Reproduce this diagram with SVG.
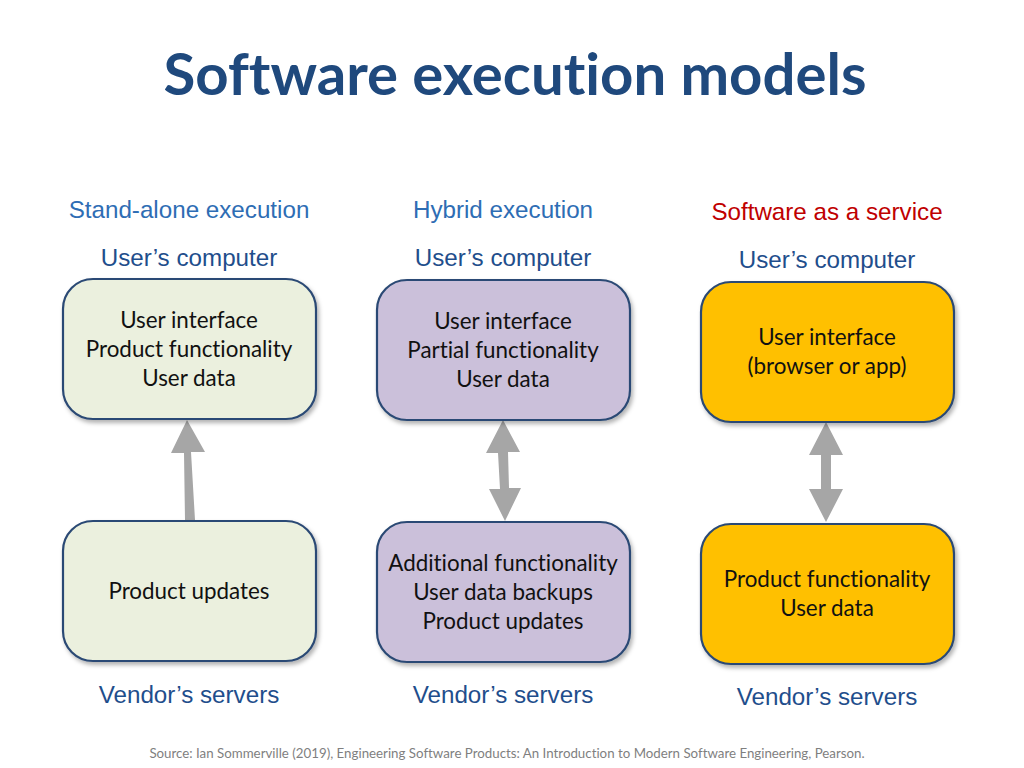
<svg xmlns="http://www.w3.org/2000/svg" width="1024" height="768" viewBox="0 0 1024 768">
<defs>
<filter id="sh" x="-10%" y="-10%" width="125%" height="125%">
<feDropShadow dx="2" dy="3" stdDeviation="2" flood-color="#000" flood-opacity="0.3"/>
</filter>
<style>
text{font-variant-ligatures:none}
.box{stroke:#2c4a74;stroke-width:2.2;filter:url(#sh)}
.g{fill:#ebf0de}.p{fill:#cbc0da}.y{fill:#ffc000}
.bt{font-family:Lato,"Open Sans",sans-serif;font-size:22.4px;fill:#111;text-anchor:middle}
.lab{font-family:"Liberation Sans",Arial,sans-serif;font-size:24.2px;fill:#1f4e8c;text-anchor:middle}
.hd{font-family:"Liberation Sans",Arial,sans-serif;font-size:24.2px;fill:#2e6db4;text-anchor:middle}
.arr{fill:#a6a6a6}
</style>
</defs>
<rect width="1024" height="768" fill="#fff"/>
<text x="515" y="95" font-family="Lato,'Open Sans',sans-serif" font-weight="bold" font-size="58" fill="#1f497d" text-anchor="middle" textLength="703" lengthAdjust="spacingAndGlyphs">Software execution models</text>

<g id="headers">
<text class="hd" x="189" y="218">Stand-alone execution</text>
<text class="hd" x="503" y="218">Hybrid execution</text>
<text class="hd" x="827" y="220" style="fill:#c00000">Software as a service</text>
<text class="lab" x="189" y="266">User’s computer</text>
<text class="lab" x="503" y="266">User’s computer</text>
<text class="lab" x="827" y="268">User’s computer</text>
<text class="lab" x="189" y="703">Vendor’s servers</text>
<text class="lab" x="503" y="703">Vendor’s servers</text>
<text class="lab" x="827" y="705">Vendor’s servers</text>
</g>

<g id="connectors">
<polygon class="arr" points="185,520 195,520 191,452 205,452 187,420 171,453 184,453"/>
<polygon class="arr" points="503,420 520,452 508,452 509,488 521,488 505,521 489,489 500,489 498,453 486,453"/>
<polygon class="arr" points="826,422 843,455 831,455 831,489 843,489 826,522 809,489 821,489 821,455 809,455"/>
</g>

<g id="n1"><rect class="box g" x="63" y="279" width="253" height="140" rx="30"/>
<text class="bt" x="189" y="328">User interface</text>
<text class="bt" x="189" y="357">Product functionality</text>
<text class="bt" x="189" y="386">User data</text></g>

<g id="n2"><rect class="box p" x="377" y="280" width="253" height="140" rx="30"/>
<text class="bt" x="503" y="329">User interface</text>
<text class="bt" x="503" y="358">Partial functionality</text>
<text class="bt" x="503" y="387">User data</text></g>

<g id="n3"><rect class="box y" x="701" y="282" width="253" height="140" rx="30"/>
<text class="bt" x="827" y="345">User interface</text>
<text class="bt" x="827" y="374">(browser or app)</text></g>

<g id="n4"><rect class="box g" x="63" y="521" width="253" height="140" rx="30"/>
<text class="bt" x="189" y="599">Product updates</text></g>

<g id="n5"><rect class="box p" x="377" y="522" width="253" height="140" rx="30"/>
<text class="bt" x="503" y="571">Additional functionality</text>
<text class="bt" x="503" y="600">User data backups</text>
<text class="bt" x="503" y="629">Product updates</text></g>

<g id="n6"><rect class="box y" x="701" y="524" width="253" height="140" rx="30"/>
<text class="bt" x="827" y="587">Product functionality</text>
<text class="bt" x="827" y="616">User data</text></g>

<text x="507" y="758" font-family="Lato,'Open Sans',sans-serif" font-size="13.3" fill="#7f7f7f" text-anchor="middle">Source: Ian Sommerville (2019), Engineering Software Products:  An Introduction to Modern Software Engineering, Pearson.</text>
</svg>
